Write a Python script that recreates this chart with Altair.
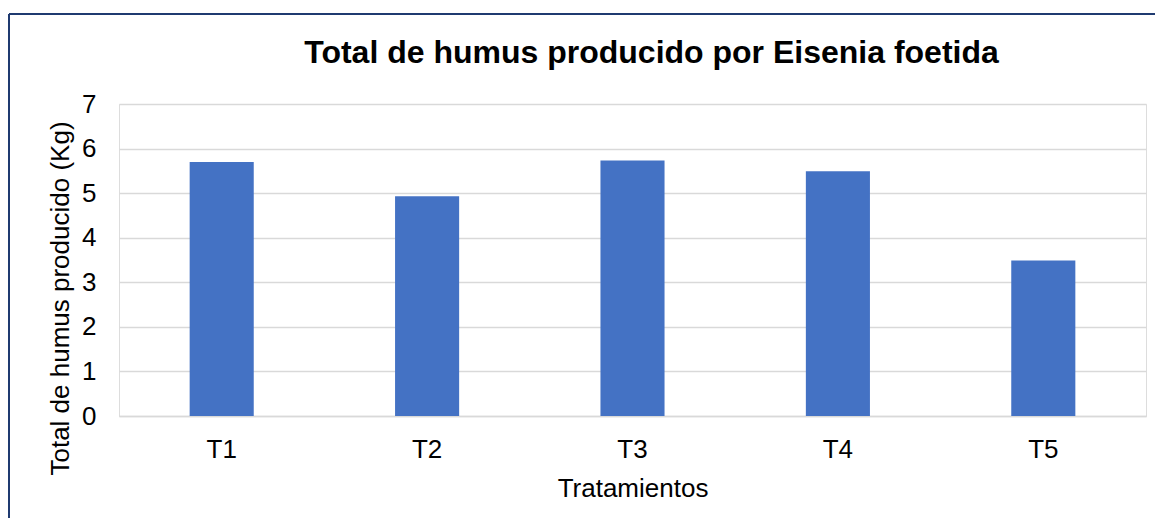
import altair as alt
import pandas as pd

categories = ["T1", "T2", "T3", "T4", "T5"]
values = [5.7, 4.93, 5.73, 5.49, 3.49]
y_ticks = [0, 1, 2, 3, 4, 5, 6, 7]

df = pd.DataFrame({"Tratamiento": categories, "Humus": values})

FONT = "Liberation Sans"

bars = alt.Chart(df).mark_bar(color="#4472C4").encode(
    x=alt.X(
        "Tratamiento:N",
        sort=categories,
        scale=alt.Scale(paddingInner=0.688, paddingOuter=0.344),
        axis=alt.Axis(
            title="Tratamientos",
            labelAngle=0,
            ticks=False,
            tickSize=0,
            labelPadding=41,
            labelBaseline="alphabetic",
            labelFontSize=26,
            labelFont=FONT,
            labelColor="#000000",
            titleFontSize=26,
            titleFont=FONT,
            titleFontWeight="normal",
            titleColor="#000000",
            titleBaseline="alphabetic",
            titleY=80,
            domainColor="#D9D9D9",
            domainWidth=1.5,
            grid=False,
        ),
    ),
    y=alt.Y(
        "Humus:Q",
        scale=alt.Scale(domain=[0, 7], nice=False),
        axis=alt.Axis(
            title="Total de humus producido (Kg)",
            values=y_ticks,
            ticks=False,
            tickSize=0,
            domain=False,
            labelPadding=23,
            labelFontSize=26,
            labelFont=FONT,
            labelColor="#000000",
            titleFontSize=26,
            titleFont=FONT,
            titleFontWeight="normal",
            titleColor="#000000",
            titleBaseline="alphabetic",
            titleX=-51,
            titleY=194,
            gridColor="#D9D9D9",
            gridWidth=1.5,
        ),
    ),
)

frame_df = alt.Data(values=[{"k": 1}])
top_border = alt.Chart(frame_df).mark_rule(color="#1F3A70", strokeWidth=2).encode(
    x=alt.value(-110), x2=alt.value(1040), y=alt.value(-90)
)
left_border = alt.Chart(frame_df).mark_rule(color="#1F3A70", strokeWidth=2).encode(
    x=alt.value(-110), y=alt.value(-90), y2=alt.value(420)
)

chart = alt.layer(bars, top_border, left_border).properties(
    width=1027,
    height=312,
    padding={"left": 111, "top": 96, "right": 9, "bottom": 102},
    autosize=alt.AutoSizeParams(type="none"),
    title=alt.TitleParams(
        text="Total de humus producido por Eisenia foetida",
        fontSize=32,
        fontWeight="bold",
        font=FONT,
        color="#000000",
        anchor="middle",
        frame="group",
        dx=19,
        offset=-82,
        baseline="alphabetic",
    ),
).configure_view(stroke=None).configure(background="white")

chart.save("out.html", embed_options={"renderer": "svg", "actions": False})
